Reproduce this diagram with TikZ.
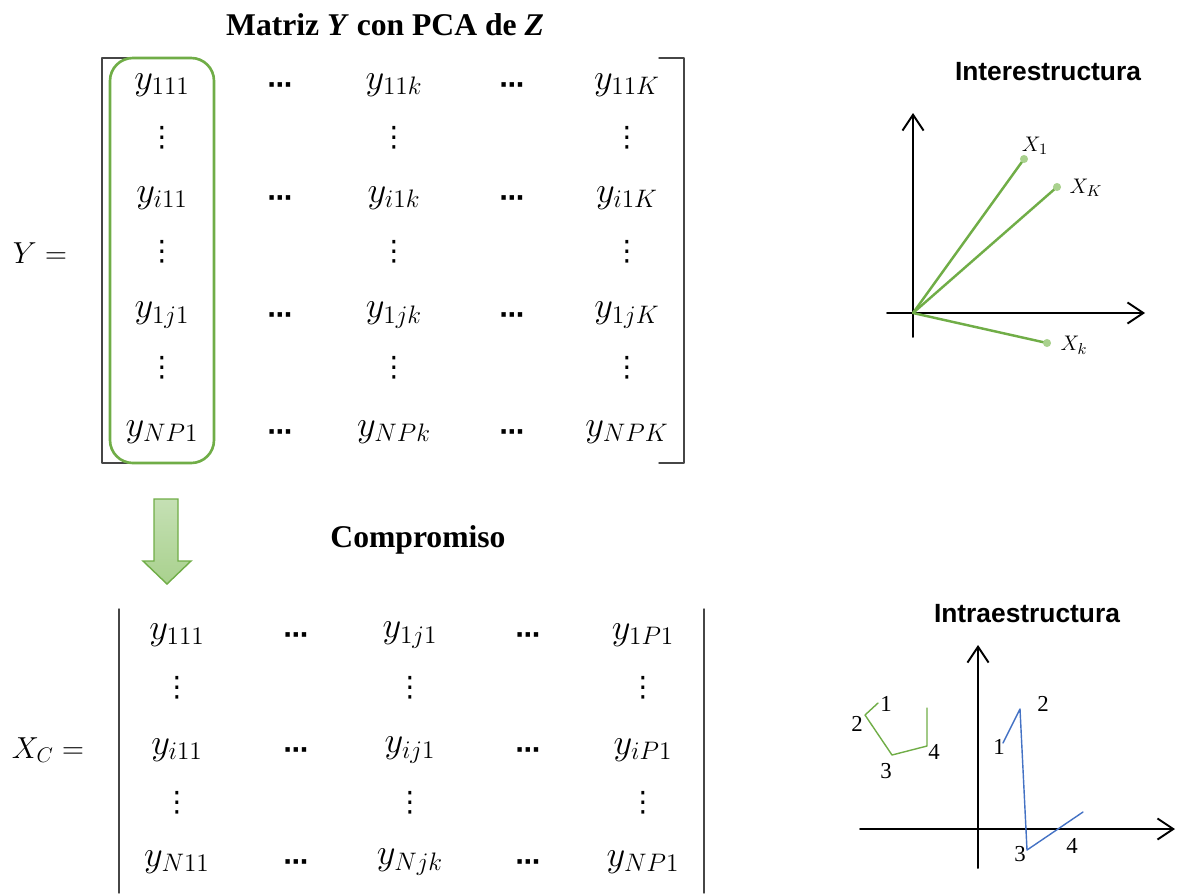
\documentclass[tikz,border=0pt]{standalone}
\usepackage{fontspec}
\setmainfont{Liberation Serif}
\newfontfamily\sansbold{Liberation Sans}
\newfontfamily\simbolos{DejaVu Sans}
\usetikzlibrary{arrows.meta}

\definecolor{verde}{RGB}{112,173,71}
\definecolor{verdeclaro}{RGB}{169,209,142}
\definecolor{verdesup}{RGB}{197,224,180}
\definecolor{azul}{RGB}{68,114,196}
\definecolor{gris}{RGB}{70,70,70}

\tikzset{
	ent/.style={inner sep=0pt,font=\fontsize{20}{24}\selectfont},
	igual/.style={inner sep=0pt,font=\fontsize{17}{20}\selectfont},
	pts/.style={inner sep=0pt,font=\simbolos\bfseries\fontsize{14}{16}\selectfont},
	vpts/.style={inner sep=0pt,font=\simbolos\fontsize{16}{18}\selectfont},
	titulo/.style={inner sep=0pt,font=\fontsize{18}{21}\selectfont\bfseries},
	subtitulo/.style={inner sep=0pt,font=\sansbold\fontsize{15}{17}\selectfont\bfseries},
	etiq/.style={inner sep=0pt,font=\fontsize{13}{15}\selectfont},
	corchete/.style={gris,line width=0.8pt},
	eje/.style={line width=1.1pt,-{Straight Barb[length=9pt,width=12pt,line width=1.1pt]}},
	vector/.style={verde,line width=1.4pt},
	punto/.style={verdeclaro},
}

\begin{document}
\begin{tikzpicture}[x=0.02cm,y=-0.02cm,line join=round,line cap=round]
	\useasboundingbox (0,0) rectangle (1179,893);
	%Titulos
	\node[titulo] (tY) at (385,25) {Matriz \textit{Y} con PCA de \textit{Z}};
	\node[titulo] (tC) at (418,540) {Compromiso};
	\node[subtitulo] (tInter) at (1048,72) {Interestructura};
	\node[subtitulo] (tIntra) at (1027,614) {Intraestructura};
	
	%Matriz Y
	\node[igual] (Yeq) at (40,253) {$Y =$};
	\draw[corchete] (130,58)--(102,58)--(102,463)--(130,463)
	(659,58)--(684,58)--(684,463)--(659,463);
	\draw[verde,line width=1.5pt,rounded corners=13] (110,58) rectangle (214,463);
	\foreach \r/\yy/\a/\b/\c in {1/85/{y_{111}}/{y_{11k}}/{y_{11K}},
		3/198/{y_{i11}}/{y_{i1k}}/{y_{i1K}},
		5/315/{y_{1j1}}/{y_{1jk}}/{y_{1jK}},
		7/432/{y_{NP1}}/{y_{NPk}}/{y_{NPK}}}
	{
		\node[ent] (Y-\r-1) at (162,\yy) {$\a$};
		\node[pts] (Y-\r-2) at (280,\yy+3) {⋯};
		\node[ent] (Y-\r-3) at (394,\yy) {$\b$};
		\node[pts] (Y-\r-4) at (512,\yy+3) {⋯};
		\node[ent] (Y-\r-5) at (627,\yy) {$\c$};
	}
	\foreach \r/\yy in {2/138,4/252,6/368}
	\foreach \c/\xx in {1/162,3/394,5/627}
	\node[vpts] (Y-\r-\c) at (\xx,\yy) {⋮};
	
	%Flecha
	\shade[top color=verdesup,bottom color=verdeclaro]
	(154,499)--(178,499)--(178,561)--(191,561)--(167,584)--(143,561)--(154,561)--cycle;
	\draw[verde,line width=0.8pt,line join=miter]
	(154,499)--(178,499)--(178,561)--(191,561)--(167,584)--(143,561)--(154,561)--cycle;
	
	%Matriz X_C
	\node[igual] (Xeq) at (48,750) {$X_C =$};
	\draw[corchete] (119,609)--(119,893) (704,609)--(704,893);
	\foreach \r/\yy/\a/\b/\c in {1/635/{y_{111}}/{y_{1j1}}/{y_{1P1}},
		3/750/{y_{i11}}/{y_{ij1}}/{y_{iP1}},
		5/862/{y_{N11}}/{y_{Njk}}/{y_{NP1}}}
	{
		\node[ent] (X-\r-1) at (177,\yy) {$\a$};
		\node[pts] (X-\r-2) at (296,\yy+3) {⋯};
		\node[ent] (X-\r-3) at (410,\yy) {$\b$};
		\node[pts] (X-\r-4) at (528,\yy+3) {⋯};
		\node[ent] (X-\r-5) at (643,\yy) {$\c$};
	}
	\foreach \r/\yy in {2/688,4/803}
	\foreach \c/\xx in {1/177,3/410,5/643}
	\node[vpts] (X-\r-\c) at (\xx,\yy) {⋮};
	
	%Interestructura
	\coordinate (O1) at (913,313);
	\coordinate (v1) at (1024,159);
	\coordinate (vK) at (1057,187);
	\coordinate (vk) at (1047,343);
	\draw[eje] (887,313)--(1145,313);
	\draw[eje] (913,337)--(913,113);
	\foreach \v in {v1,vK,vk}
	{
		\draw[vector] (O1)--(\v);
		\fill[punto] (\v) circle (2.3pt);
	}
	\node[etiq] (l1) at (1035,146) {$X_1$};
	\node[etiq] (lK) at (1086,188) {$X_K$};
	\node[etiq] (lk) at (1074,345) {$X_k$};
	
	%Intraestructura
	\draw[eje] (860,829)--(1175,829);
	\draw[eje] (978,868)--(978,645);
	\coordinate (g1) at (878,703);
	\coordinate (g2) at (865,715);
	\coordinate (g3) at (892,755);
	\coordinate (g4) at (927,746);
	\coordinate (g5) at (927,708);
	\draw[verde,line width=0.8pt] (g1)--(g2)--(g3)--(g4)--(g5);
	\coordinate (b1) at (1003,743);
	\coordinate (b2) at (1020,709);
	\coordinate (b3) at (1027,850);
	\coordinate (b4) at (1083,812);
	\draw[azul,line width=0.8pt] (b1)--(b2)--(b3)--(b4);
	\node[etiq] (gl1) at (886,704) {1};
	\node[etiq] (gl2) at (857,724) {2};
	\node[etiq] (gl3) at (886,771) {3};
	\node[etiq] (gl4) at (934,752) {4};
	\node[etiq] (bl1) at (999,747) {1};
	\node[etiq] (bl2) at (1043,704) {2};
	\node[etiq] (bl3) at (1020,854) {3};
	\node[etiq] (bl4) at (1072,846) {4};
\end{tikzpicture}
\end{document}
